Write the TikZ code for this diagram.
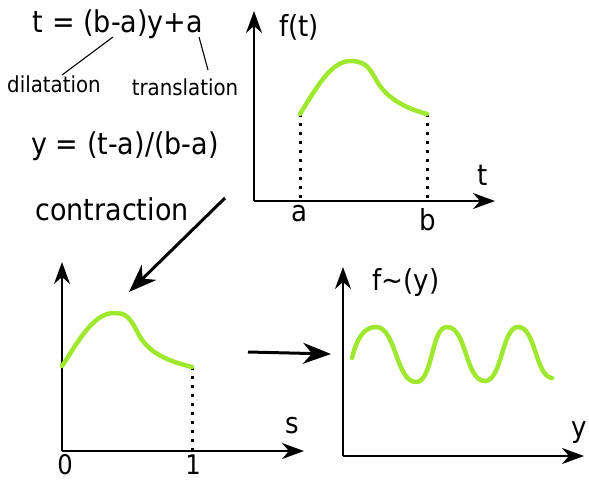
\documentclass[tikz,border=0pt]{standalone}
\usepackage{fontspec}
\setmainfont{DejaVu Sans}[FakeStretch=0.9]
\usetikzlibrary{arrows.meta}
\definecolor{curvegreen}{RGB}{158,232,48}
\tikzset{
  axis/.style={line width=1.5pt,-{Stealth[length=22pt,width=16pt,inset=7pt]}},
  bigarrow/.style={line width=3pt,-{Stealth[length=28pt,width=21pt,inset=9pt]}},
  fcurve/.style={curvegreen,line width=4.5pt,line cap=round},
  dotline/.style={line width=3pt,dash pattern=on 3pt off 6pt},
  thin/.style={line width=1.1pt},
  big/.style={font=\fontsize{30}{34}\selectfont,inner sep=0pt},
  lab/.style={font=\fontsize{29}{33}\selectfont,inner sep=0pt},
  digit/.style={font=\fontsize{27}{30}\selectfont,inner sep=0pt},
  small/.style={font=\fontsize{22}{26}\selectfont,inner sep=0pt},
}
\begin{document}
\begin{tikzpicture}[x=1pt,y=-1pt]
\useasboundingbox (0,0) rectangle (589,482);
% formulas
\node[big] (f1) at (118,24) {t = (b-a)y+a};
\node[small] (dil) at (54,84) {dilatation};
\node[small] (tra) at (185,87) {translation};
\coordinate (d1) at (113,37);
\coordinate (d2) at (62,75);
\coordinate (t1) at (199,37);
\coordinate (t2) at (208,70);
\draw[thin] (d1) -- (d2);
\draw[thin] (t1) -- (t2);
\node[big] (f2) at (125,146) {y = (t-a)/(b-a)};
\node[big] (con) at (112,209) {contraction};
% top graph
\coordinate (O1) at (254,201);
\coordinate (Y1) at (254,11);
\coordinate (X1) at (495,201);
\draw[axis] (O1) -- (Y1);
\draw[axis] (O1) -- (X1);
\node[lab] (ft) at (299,27) {f(t)};
\node[lab] (tl) at (483,175) {t};
\node[lab] (al) at (299,214) {a};
\node[lab] (bl) at (428,220) {b};
\coordinate (A1) at (300,114);
\coordinate (A0) at (300,201);
\coordinate (B1) at (427,114);
\coordinate (B0) at (427,201);
\draw[dotline] (A1) -- (A0);
\draw[dotline] (B1) -- (B0);
\draw[fcurve] (A1) .. controls (318,85) and (332,60) .. (352,61)
  .. controls (368,62) and (370,70) .. (378,83)
  .. controls (390,102) and (412,110) .. (B1);
% bottom-left graph
\coordinate (O2) at (62,451);
\coordinate (Y2) at (62,262);
\coordinate (X2) at (304,451);
\draw[axis] (O2) -- (Y2);
\draw[axis] (O2) -- (X2);
\node[lab] (sl) at (292,426) {s};
\node[digit] (zl) at (65,465) {0};
\node[digit] (ol) at (193,465) {1};
\coordinate (S0) at (62,366);
\coordinate (S1) at (192,367);
\coordinate (S1b) at (192,451);
\draw[dotline] (S1) -- (S1b);
\draw[fcurve] (S0) .. controls (77,344) and (93,312) .. (115,313)
  .. controls (128,313) and (131,320) .. (139,335)
  .. controls (150,355) and (172,362) .. (S1);
% bottom-right graph
\coordinate (O3) at (343,456);
\coordinate (Y3) at (343,267);
\coordinate (X3) at (584,456);
\draw[axis] (O3) -- (Y3);
\draw[axis] (O3) -- (X3);
\node[lab] (fy) at (406,282) {f\char`\~(y)};
\node[lab] (yl) at (579,433) {y};
\draw[fcurve] (352,358) .. controls (357,338) and (364,327) .. (376,327)
  .. controls (396,327) and (396,382) .. (416,382)
  .. controls (433,382) and (431,327) .. (447,327)
  .. controls (467,327) and (465,381) .. (485,381)
  .. controls (502,381) and (502,327) .. (518,327)
  .. controls (536,327) and (535,376) .. (552,378);
% arrows between graphs
\coordinate (c1) at (225,198);
\coordinate (c2) at (129,292);
\draw[bigarrow] (c1) -- (c2);
\coordinate (r1) at (248,352);
\coordinate (r2) at (331,354);
\draw[bigarrow] (r1) -- (r2);
\end{tikzpicture}
\end{document}
